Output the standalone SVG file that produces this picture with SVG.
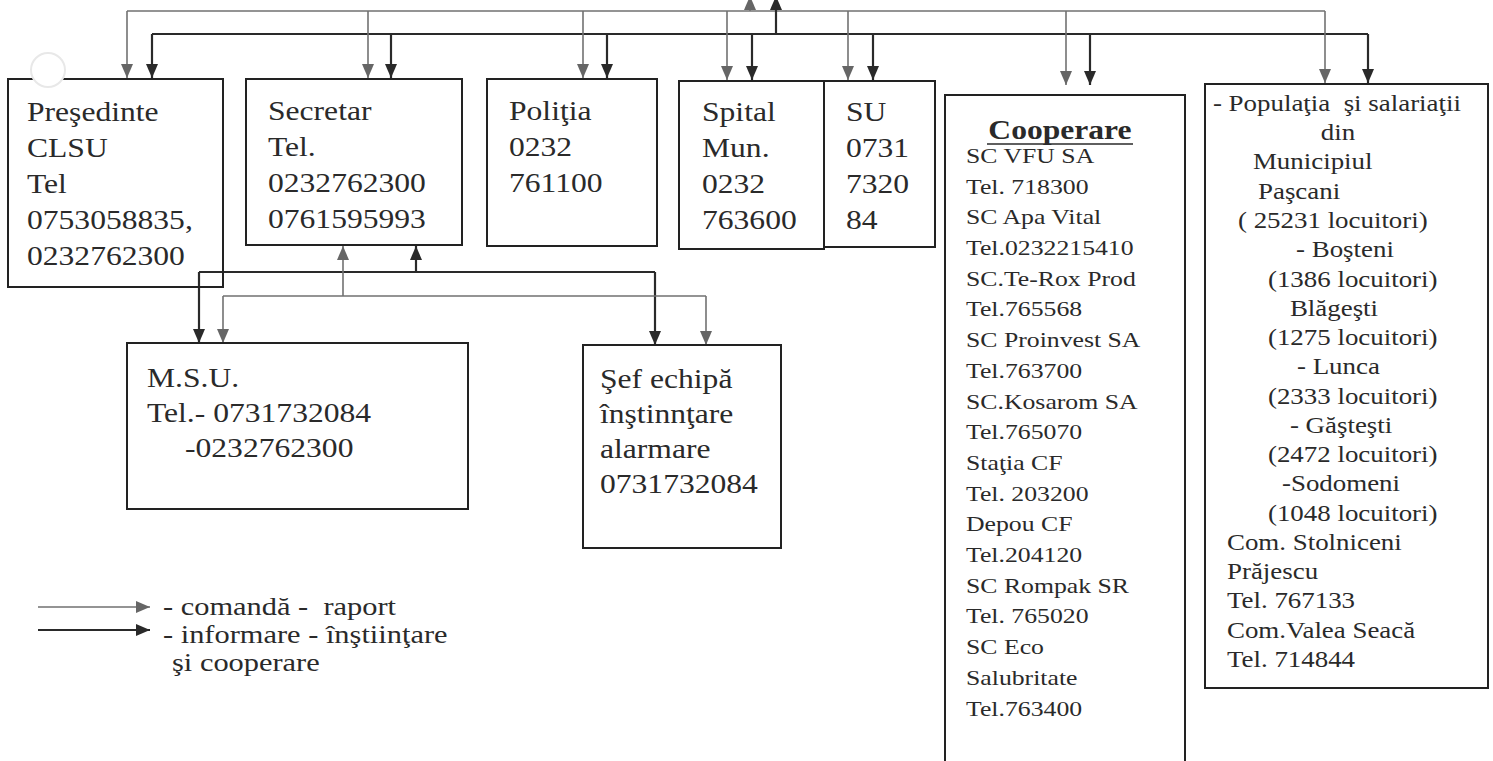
<svg xmlns="http://www.w3.org/2000/svg" width="1493" height="761" viewBox="0 0 1493 761">
<style>
.box{fill:none;stroke:#222;stroke-width:2}
.g{stroke:#717171;stroke-width:1.6;fill:none}
.d{stroke:#2a2a2a;stroke-width:2.2;fill:none}
.t{font-family:"Liberation Serif","Times New Roman",serif;font-size:27px;fill:#2a2a2a}
.s{font-size:22px}
.p{font-size:23px}
.l{font-size:26px}
.b{font-weight:bold;font-size:27px}
</style>
<defs>
<marker id="ag" viewBox="0 0 14 12" refX="14" refY="6" markerWidth="14" markerHeight="12" markerUnits="userSpaceOnUse" orient="auto"><path d="M0,0 L14,6 L0,12 z" fill="#666"/></marker>
<marker id="ad" viewBox="0 0 14 12" refX="14" refY="6" markerWidth="14" markerHeight="12" markerUnits="userSpaceOnUse" orient="auto"><path d="M0,0 L14,6 L0,12 z" fill="#2a2a2a"/></marker>
</defs>
<rect x="0" y="0" width="1493" height="761" fill="#fff"/>
<g id="connectors">
<path class="g" d="M127,11 H1325"/>
<path class="d" d="M152,34 H1368"/>
<line class="g" x1="127" y1="11" x2="127" y2="78" marker-end="url(#ag)"/>
<line class="g" x1="368" y1="11" x2="368" y2="78" marker-end="url(#ag)"/>
<line class="g" x1="583" y1="11" x2="583" y2="78" marker-end="url(#ag)"/>
<line class="g" x1="727" y1="11" x2="727" y2="80" marker-end="url(#ag)"/>
<line class="g" x1="848" y1="11" x2="848" y2="80" marker-end="url(#ag)"/>
<line class="g" x1="1066" y1="11" x2="1066" y2="85" marker-end="url(#ag)"/>
<line class="g" x1="1325" y1="11" x2="1325" y2="83" marker-end="url(#ag)"/>
<line class="d" x1="152" y1="34" x2="152" y2="78" marker-end="url(#ad)"/>
<line class="d" x1="391" y1="34" x2="391" y2="78" marker-end="url(#ad)"/>
<line class="d" x1="607" y1="34" x2="607" y2="78" marker-end="url(#ad)"/>
<line class="d" x1="752" y1="34" x2="752" y2="80" marker-end="url(#ad)"/>
<line class="d" x1="873" y1="34" x2="873" y2="80" marker-end="url(#ad)"/>
<line class="d" x1="1090" y1="34" x2="1090" y2="85" marker-end="url(#ad)"/>
<line class="d" x1="1368" y1="34" x2="1368" y2="83" marker-end="url(#ad)"/>
<line class="g" x1="750" y1="11" x2="750" y2="-4" marker-end="url(#ag)"/>
<line class="d" x1="776" y1="34" x2="776" y2="-4" marker-end="url(#ad)"/>
<path class="d" d="M199,272 H655"/>
<line class="d" x1="199" y1="272" x2="199" y2="343" marker-end="url(#ad)"/>
<line class="d" x1="655" y1="272" x2="655" y2="345" marker-end="url(#ad)"/>
<line class="d" x1="416" y1="272" x2="416" y2="246" marker-end="url(#ad)"/>
<path class="g" d="M223,296 H706"/>
<line class="g" x1="223" y1="296" x2="223" y2="343" marker-end="url(#ag)"/>
<line class="g" x1="706" y1="296" x2="706" y2="345" marker-end="url(#ag)"/>
<line class="g" x1="343" y1="296" x2="343" y2="246" marker-end="url(#ag)"/>
</g>
<g id="presedinte">
<rect class="box" x="8" y="79" width="215" height="208"/>
<circle cx="48" cy="70" r="17" fill="#fff" stroke="#e8e8e8" stroke-width="2"/>
<g class="t" transform="translate(27,0) scale(1.17,1)">
<text y="121">Preşedinte</text>
<text y="157">CLSU</text>
<text y="193">Tel</text>
<text y="229">0753058835,</text>
<text y="265">0232762300</text>
</g>
</g>
<g id="secretar">
<rect class="box" x="246" y="79" width="216" height="166"/>
<g class="t" transform="translate(268,0) scale(1.17,1)">
<text y="120">Secretar</text>
<text y="156">Tel.</text>
<text y="192">0232762300</text>
<text y="228">0761595993</text>
</g>
</g>
<g id="politia">
<rect class="box" x="487" y="79" width="170" height="167"/>
<g class="t" transform="translate(509,0) scale(1.17,1)">
<text y="120">Poliţia</text>
<text y="156">0232</text>
<text y="192">761100</text>
</g>
</g>
<g id="spital">
<rect class="box" x="679" y="81" width="145" height="168"/>
<g class="t" transform="translate(702,0) scale(1.17,1)">
<text y="121">Spital</text>
<text y="157">Mun.</text>
<text y="193">0232</text>
<text y="229">763600</text>
</g>
</g>
<g id="su">
<rect class="box" x="824" y="81" width="111" height="166"/>
<g class="t" transform="translate(846,0) scale(1.17,1)">
<text y="121">SU</text>
<text y="157">0731</text>
<text y="193">7320</text>
<text y="229">84</text>
</g>
</g>
<g id="msu">
<rect class="box" x="127" y="343" width="341" height="166"/>
<g class="t" transform="translate(147,0) scale(1.17,1)">
<text y="387">M.S.U.</text>
<text y="422">Tel.- 0731732084</text>
<text x="32.5" y="457">-0232762300</text>
</g>
</g>
<g id="sef">
<rect class="box" x="583" y="345" width="198" height="203"/>
<g class="t" transform="translate(600,0) scale(1.17,1)">
<text y="388">Şef echipă</text>
<text y="423">înştinnţare</text>
<text y="458">alarmare</text>
<text y="493">0731732084</text>
</g>
</g>
<g id="cooperare">
<path class="box" d="M945,770 V95 H1185 V770"/>
<line x1="987" y1="144" x2="1133" y2="144" stroke="#2a2a2a" stroke-width="1.6"/>
<g class="t s" transform="translate(966,0) scale(1.17,1)">
<text class="b" x="80.3" y="139" text-anchor="middle">Cooperare</text>
<text y="163">SC VFU SA</text>
<text y="193.7">Tel. 718300</text>
<text y="224.4">SC Apa Vital</text>
<text y="255.1">Tel.0232215410</text>
<text y="285.8">SC.Te-Rox Prod</text>
<text y="316.5">Tel.765568</text>
<text y="347.2">SC Proinvest SA</text>
<text y="377.9">Tel.763700</text>
<text y="408.6">SC.Kosarom SA</text>
<text y="439.3">Tel.765070</text>
<text y="470">Staţia CF</text>
<text y="500.7">Tel. 203200</text>
<text y="531.4">Depou CF</text>
<text y="562.1">Tel.204120</text>
<text y="592.8">SC Rompak SR</text>
<text y="623.5">Tel. 765020</text>
<text y="654.2">SC Eco</text>
<text y="684.9">Salubritate</text>
<text y="715.6">Tel.763400</text>
</g>
</g>
<g id="populatia">
<rect class="box" x="1205" y="84" width="283" height="604"/>
<g class="t p" transform="translate(1205,0) scale(1.17,1)">
<text x="6.8" y="111">- Populaţia &#160;şi salariaţii</text>
<text x="99" y="140.3">din</text>
<text x="41" y="169.5">Municipiul</text>
<text x="45.3" y="198.8">Paşcani</text>
<text x="28.2" y="228">( 25231 locuitori)</text>
<text x="77.8" y="257.3">- Boşteni</text>
<text x="53.8" y="286.6">(1386 locuitori)</text>
<text x="72.6" y="315.8">Blăgeşti</text>
<text x="53.8" y="345.1">(1275 locuitori)</text>
<text x="78.6" y="374.3">- Lunca</text>
<text x="53.8" y="403.6">(2333 locuitori)</text>
<text x="72.6" y="432.9">- Găşteşti</text>
<text x="53.8" y="462.1">(2472 locuitori)</text>
<text x="65.8" y="491.4">-Sodomeni</text>
<text x="53.8" y="520.6">(1048 locuitori)</text>
<text x="18.8" y="549.9">Com. Stolniceni</text>
<text x="18.8" y="579.2">Prăjescu</text>
<text x="18.8" y="608.4">Tel. 767133</text>
<text x="18.8" y="637.7">Com.Valea Seacă</text>
<text x="18.8" y="666.9">Tel. 714844</text>
</g>
</g>
<g id="legend">
<line class="g" x1="38" y1="607" x2="150" y2="607" marker-end="url(#ag)"/>
<line class="d" x1="38" y1="630" x2="150" y2="630" marker-end="url(#ad)"/>
<g class="t l" transform="translate(163,0) scale(1.17,1)">
<text y="615">- comandă - &#160;raport</text>
<text y="643">- informare - înştiinţare</text>
<text x="7.7" y="671">şi cooperare</text>
</g>
</g>
</svg>
